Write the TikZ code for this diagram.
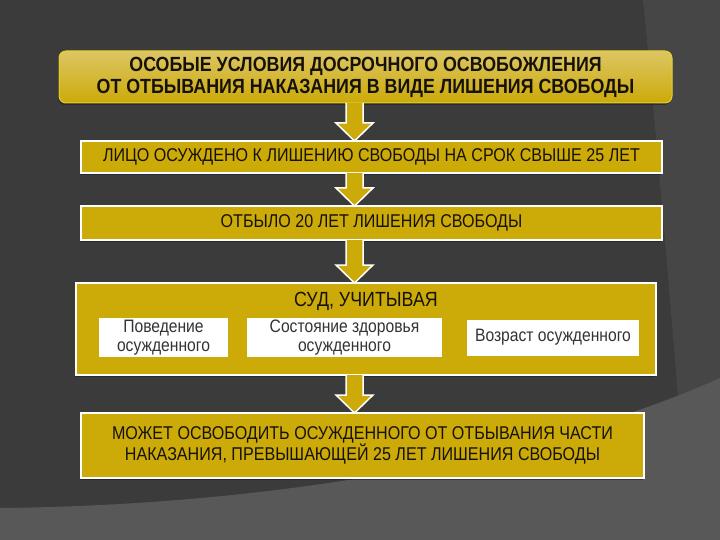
\documentclass[tikz,border=0pt]{standalone}
\usepackage{fontspec}
\setmainfont[FakeStretch=0.87]{Liberation Sans}
\usetikzlibrary{arrows.meta, positioning, calc, shadows}

\definecolor{bgdark}{RGB}{59,59,59}
\definecolor{bgmid}{RGB}{70,70,70}
\definecolor{bglight}{RGB}{88,88,88}
\definecolor{gold}{RGB}{204,170,8}
\definecolor{goldtop}{RGB}{220,198,100}
\definecolor{goldrim}{RGB}{232,208,40}
\definecolor{inktext}{RGB}{22,18,10}
\definecolor{shade}{RGB}{28,28,48}

% block arrow between two boxes, along the arrow axis
\newcommand{\blockarrow}[2]{%
  \filldraw[barrow]
    ($(#1.south -| axis)+(-8.5,0)$) -- ($(#2.north -| axis)+(-8.5,-18)$)
    -- ($(#2.north -| axis)+(-18.5,-18)$) -- (#2.north -| axis)
    -- ($(#2.north -| axis)+(18.5,-18)$) -- ($(#2.north -| axis)+(8.5,-18)$)
    -- ($(#1.south -| axis)+(8.5,0)$);}

\begin{document}
\begin{tikzpicture}[
    x=1pt, y=-1pt,
    every node/.style={text=inktext},
    plainbox/.style={rectangle, draw=white, line width=1.5pt, fill=gold, align=center,
      inner sep=0pt, outer sep=0pt, font=\fontsize{18.5}{20}\selectfont,
      drop shadow={shadow xshift=-1pt, shadow yshift=-2pt, opacity=0.6, fill=shade}},
    titlebox/.style={rectangle, rounded corners=7pt, draw=goldrim, line width=1pt,
      top color=goldtop, bottom color=gold, align=center, inner sep=0pt, outer sep=0pt,
      font=\bfseries\fontsize{20.5}{22}\selectfont,
      drop shadow={shadow xshift=-1pt, shadow yshift=-2pt, opacity=0.6, fill=shade}},
    whitebox/.style={rectangle, fill=white, align=center, inner sep=0pt, outer sep=0pt,
      text=black!80, font=\fontsize{18}{19}\selectfont},
    barrow/.style={fill=gold, draw=white, line width=1.5pt, line join=miter}
]

\useasboundingbox (0,0) rectangle (720,540);
\fill[bgdark] (0,0) rectangle (720,540);
\fill[bgmid] (643,0) .. controls (658,150) and (670,300) .. (680,420) -- (720,420) -- (720,0) -- cycle;
\fill[bglight] (0,508) .. controls (300,505) and (560,450) .. (720,378) -- (720,540) -- (0,540) -- cycle;

\coordinate (axis) at (354.5,0);

\node[titlebox, minimum width=613pt, minimum height=52pt] (title) at (365.5,77)
  {ОСОБЫЕ УСЛОВИЯ ДОСРОЧНОГО ОСВОБОЖЛЕНИЯ\\ОТ ОТБЫВАНИЯ НАКАЗАНИЯ В ВИДЕ ЛИШЕНИЯ СВОБОДЫ};
\node[plainbox, minimum width=581pt, minimum height=32pt, below=38pt of title, xshift=6pt] (lico)
  {ЛИЦО ОСУЖДЕНО К ЛИШЕНИЮ СВОБОДЫ НА СРОК СВЫШЕ 25 ЛЕТ};
\node[plainbox, minimum width=581pt, minimum height=34pt, below=33pt of lico] (otbylo)
  {ОТБЫЛО 20 ЛЕТ ЛИШЕНИЯ СВОБОДЫ};
\node[plainbox, minimum width=580pt, minimum height=92pt, below=43pt of otbylo, xshift=-5.5pt] (court) {};
\node[font=\fontsize{20.5}{22}\selectfont, below=6pt of court.north] (courthead) {СУД, УЧИТЫВАЯ};
\node[whitebox, minimum width=129pt, minimum height=39pt, right=23pt of court.west, yshift=-8.5pt] (behav)
  {Поведение\\осужденного};
\node[whitebox, minimum width=195pt, minimum height=39pt, right=19pt of behav] (health)
  {Состояние здоровья\\осужденного};
\node[whitebox, minimum width=172pt, minimum height=36pt, right=25pt of health] (age)
  {Возраст осужденного};
\node[plainbox, minimum width=563pt, minimum height=65pt, below=38pt of court, xshift=-3.5pt] (result)
  {МОЖЕТ ОСВОБОДИТЬ ОСУЖДЕННОГО ОТ ОТБЫВАНИЯ ЧАСТИ\\НАКАЗАНИЯ, ПРЕВЫШАЮЩЕЙ 25 ЛЕТ ЛИШЕНИЯ СВОБОДЫ};

\blockarrow{title}{lico}
\blockarrow{lico}{otbylo}
\blockarrow{otbylo}{court}
\blockarrow{court}{result}

\end{tikzpicture}
\end{document}
